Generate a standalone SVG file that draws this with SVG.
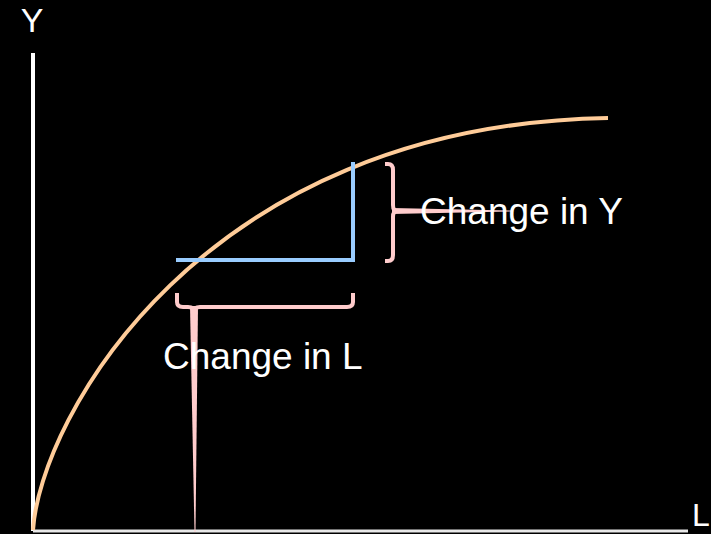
<svg xmlns="http://www.w3.org/2000/svg" width="711" height="534" viewBox="0 0 711 534">
<style>
.lbl{font-family:"Liberation Sans",Arial,sans-serif;fill:#ffffff;}
.brace{fill:none;stroke:#ffcccc;stroke-width:4;stroke-linejoin:round;}
.ptr{fill:#ffcccc;}
</style>
<rect x="0" y="0" width="711" height="534" fill="#000000"/>
<g id="axes">
<line x1="33" y1="53" x2="33" y2="531" stroke="#ffffff" stroke-width="4"/>
<line x1="33" y1="531" x2="688" y2="531" stroke="#e8e8e8" stroke-width="3"/>
<text class="lbl" x="32" y="32" font-size="34" text-anchor="middle">Y</text>
<text class="lbl" x="701" y="526" font-size="32" text-anchor="middle">L</text>
</g>
<g id="curve">
<path d="M33,530 C40,420 200,125 608,118" fill="none" stroke="#ffcc99" stroke-width="4"/>
</g>
<g id="triangle">
<path d="M176,260 H353 V162" fill="none" stroke="#99ccff" stroke-width="4"/>
</g>
<g id="connectors">
<path class="ptr" d="M190,306 L198,306 L195.5,532 L194.5,532 Z"/>
<path class="ptr" d="M392,208 L392,214 L512,211.5 L512,210.5 Z"/>
</g>
<g id="change-in-l">
<path class="brace" d="M177,293 V302 Q177,307 183,307 H188 Q194,307 194,311 Q194,307 200,307 H347 Q353,307 353,302 V293"/>
<text class="lbl" x="163" y="369" font-size="37">Change in L</text>
</g>
<g id="change-in-y">
<path class="brace" d="M385,164 H388 Q393,164 393,170 V205 Q393,211 397,211 Q393,211 393,217 V255 Q393,261 388,261 H385"/>
<text class="lbl" x="420" y="224" font-size="37">Change in Y</text>
</g>
</svg>
